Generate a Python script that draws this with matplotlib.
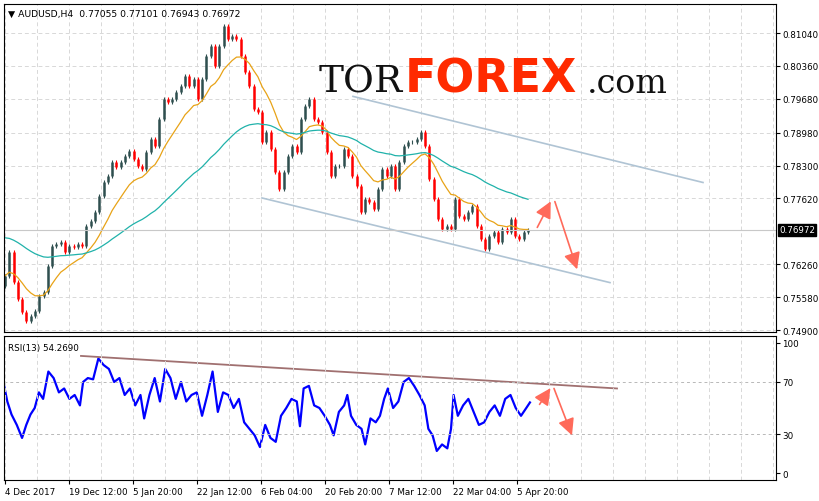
import numpy as np
import matplotlib.pyplot as plt

# AUDUSD H4 closes (left to right)
closes = [0.7602, 0.7651, 0.7589, 0.7554, 0.7527, 0.7509, 0.7519, 0.7529, 0.7560, 0.7569,
          0.7622, 0.7664, 0.7668, 0.7672, 0.7651, 0.7664, 0.7662, 0.7668, 0.7664, 0.7705,
          0.7715, 0.7734, 0.7767, 0.7796, 0.7808, 0.7837, 0.7827, 0.7837, 0.7850, 0.7860,
          0.7844, 0.7829, 0.7823, 0.7858, 0.7885, 0.7870, 0.7926, 0.7968, 0.7961, 0.7968,
          0.7982, 0.7994, 0.8015, 0.7994, 0.8009, 0.7968, 0.8009, 0.8056, 0.8077, 0.8036,
          0.8077, 0.8118, 0.8092, 0.8098, 0.8092, 0.8056, 0.8023, 0.7994, 0.7947, 0.7941,
          0.7879, 0.7899, 0.7864, 0.7817, 0.7782, 0.7817, 0.7850, 0.7870, 0.7858, 0.7926,
          0.7953, 0.7968, 0.7926, 0.7920, 0.7899, 0.7858, 0.7808, 0.7829, 0.7829, 0.7864,
          0.7850, 0.7808, 0.7788, 0.7734, 0.7761, 0.7755, 0.7740, 0.7782, 0.7823, 0.7808,
          0.7829, 0.7782, 0.7837, 0.7870, 0.7879, 0.7879, 0.7885, 0.7899, 0.7870, 0.7802,
          0.7761, 0.7720, 0.7699, 0.7705, 0.7699, 0.7761, 0.7726, 0.7720, 0.7734, 0.7746,
          0.7705, 0.7678, 0.7658, 0.7684, 0.7693, 0.7672, 0.7699, 0.7693, 0.7720, 0.7684,
          0.7678, 0.7693, 0.76972]
first_open = 0.7580
ma_fast_seed = 0.7602
ma_slow_seed = 0.7684

rsi_values = [67, 55, 45, 37, 27, 37, 45, 50, 62, 57, 78, 73, 62, 65, 57, 60, 52, 70, 73, 72,
              88, 83, 80, 70, 73, 60, 65, 52, 60, 42, 60, 73, 55, 80, 73, 57, 70, 55, 60, 62,
              44, 60, 78, 47, 62, 60, 50, 57, 39, 34, 29, 20, 37, 27, 24, 44, 50, 57, 55, 36,
              65, 67, 52, 50, 44, 37, 29, 47, 52, 60, 44, 37, 34, 22, 42, 39, 44, 57, 65, 50,
              55, 70, 73, 67, 60, 52, 34, 29, 17, 22, 19, 34, 60, 44, 52, 57, 47, 37, 39, 47,
              52, 44, 57, 60, 50, 44, 50, 54.27]
rsi_px = [6, 12, 20, 30, 40, 48, 56, 64, 72, 80, 90, 100, 110, 120, 130, 140, 150, 156, 165, 175,
          185, 195, 205, 215, 225, 235, 245, 255, 265, 272, 282, 292, 302, 312, 322, 332, 342, 352, 362, 372,
          382, 392, 402, 412, 422, 432, 442, 452, 462, 472, 482, 492, 502, 512, 522, 532, 542, 552, 562, 568,
          575, 585, 595, 605, 615, 625, 632, 642, 652, 658, 665, 675, 685, 692, 702, 712, 720, 728, 735, 745,
          755, 765, 775, 785, 795, 805, 812, 820, 828, 838, 848, 855, 860, 868, 878, 888, 898, 908, 918, 928,
          938, 948, 958, 968, 978, 988, 998, 1005]

price_ticks = [0.81040, 0.80360, 0.79680, 0.78980, 0.78300, 0.77620, 0.76260, 0.75580, 0.74900]
date_labels = ['4 Dec 2017', '19 Dec 12:00', '5 Jan 20:00', '22 Jan 12:00', '6 Feb 04:00',
               '20 Feb 20:00', '7 Mar 12:00', '22 Mar 04:00', '5 Apr 20:00']

# drawn lines: (x in chart pixels from left edge, value)
chan_upper = [(348, 0.7973), (698, 0.7795)]
chan_lower = [(257, 0.7763), (605, 0.7588)]
arrow_up = [(531, 0.7697), (547, 0.7761)]
arrow_down = [(549, 0.7761), (573, 0.7610)]
rsi_line = [(76, 90), (612, 65)]
rsi_arrow_up = [(533, 51), (547, 67)]
rsi_arrow_down = [(548, 67), (568, 27)]

BULL = '#2f4f4f'
BEAR = '#ff0000'
W, H = 820, 502
FS = 6.3

fig = plt.figure(figsize=(8.2, 5.02), dpi=100)
ax = fig.add_axes([4 / W, 1 - 333 / H, 772 / W, 328 / H])
ax2 = fig.add_axes([4 / W, 1 - 481 / H, 772 / W, 144 / H])

n = len(closes)
xs = np.linspace(0, 523, n)
opens = [first_open] + closes[:-1]

# moving averages (EMA in sample units)
def ema(vals, seed, period):
    a = 2 / (period + 1)
    out, v = [], seed
    for c in vals:
        v = v + a * (c - v)
        out.append(v)
    return out

for x, o, c in zip(xs, opens, closes):
    col = BULL if c >= o else BEAR
    ax.vlines(x, min(o, c) - 0.0004, max(o, c) + 0.0004, color=col, lw=0.8)
    ax.vlines(x, min(o, c), max(o, c), color=col, lw=1.8)
ax.plot(xs, ema(closes, ma_fast_seed, 12), color='#e8a317', lw=0.9)
ax.plot(xs, ema(closes, ma_slow_seed, 48), color='#20b2aa', lw=0.9)

for seg in (chan_upper, chan_lower):
    ax.plot([seg[0][0], seg[1][0]], [seg[0][1], seg[1][1]], color='#b0c4d4', lw=1.2)
for seg in (arrow_up, arrow_down):
    ax.annotate('', xy=seg[1], xytext=seg[0],
                arrowprops=dict(arrowstyle='-|>,head_length=1.0,head_width=0.5', color='#ff6a5a', lw=1.2))

last = closes[-1]
ax.axhline(last, color='#c8c8c8', lw=0.8)
ax.set_xlim(-1, 771)
ax.set_ylim(0.74859, 0.8164)
ax.set_yticks(price_ticks)
ax.yaxis.tick_right()
ax.set_yticklabels(['%.5f' % v for v in price_ticks], fontsize=FS)
ax.set_xticks(np.arange(0, 771, 32))
ax.tick_params(axis='x', length=0, labelbottom=False)
ax.tick_params(axis='y', length=3, pad=1.5)
ax.grid(True, color='#d8d8d8', ls=(0, (4, 3)), lw=0.7)
ax.text(1.004, (last - 0.74859) / (0.8164 - 0.74859), '%.5f' % last, transform=ax.transAxes,
        fontsize=FS, color='white', va='center', ha='left',
        bbox=dict(boxstyle='square,pad=0.15', fc='black', ec='black'))
ax.text(0.005, 0.985, '▼ AUDUSD,H4  0.77055 0.77101 0.76943 0.76972', transform=ax.transAxes,
        fontsize=FS + 0.4, va='top', ha='left')

# watermark
ax.text(398, 0.7983, 'TOR', fontsize=27, family='DejaVu Serif', color='#111111', va='baseline', ha='right')
ax.text(400, 0.7983, 'FOREX', fontsize=33, weight='bold', color='#ff2a00', va='baseline', ha='left')
ax.text(582, 0.7983, '.com', fontsize=24, family='DejaVu Serif', color='#111111', va='baseline', ha='left')

# RSI
rsi_x = np.array(rsi_px) / 1.9 - 4
ax2.plot(rsi_x, rsi_values, color='#0000ff', lw=1.6)
ax2.plot([p[0] for p in rsi_line], [p[1] for p in rsi_line], color='#a07070', lw=1.3)
for seg in (rsi_arrow_up, rsi_arrow_down):
    ax2.annotate('', xy=seg[1], xytext=seg[0],
                 arrowprops=dict(arrowstyle='-|>,head_length=1.0,head_width=0.5', color='#ff6a5a', lw=1.2))
ax2.set_xlim(-1, 771)
ax2.set_ylim(-5.3, 105.3)
ax2.set_yticks([0, 30, 70, 100])
ax2.yaxis.tick_right()
ax2.tick_params(axis='y', length=3, pad=1.5, labelsize=FS)
for lv in (30, 70):
    ax2.axhline(lv, color='#b8b8b8', ls=(0, (3, 3)), lw=0.7)
for xv in np.arange(0, 771, 32):
    ax2.axvline(xv, color='#d8d8d8', ls=(0, (4, 3)), lw=0.7)
ax2.set_xticks(np.arange(0, 520, 64))
ax2.set_xticklabels(date_labels, fontsize=FS, ha='left')
ax2.tick_params(axis='x', length=3, pad=2)
ax2.text(0.005, 0.95, 'RSI(13) 54.2690', transform=ax2.transAxes, fontsize=FS, va='top')

fig.savefig('out.png', dpi=100)
